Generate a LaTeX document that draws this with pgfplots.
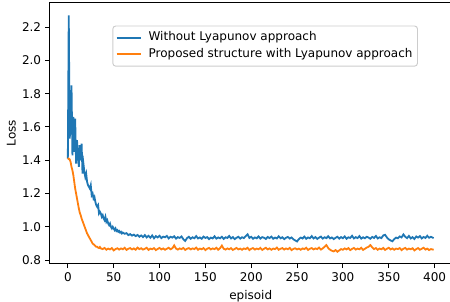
\documentclass[border=0pt]{standalone}
\usepackage{pgfplots}
\pgfplotsset{compat=1.18}
\usepackage{fontspec}
\setmainfont{DejaVu Sans}
\definecolor{mplblue}{HTML}{1F77B4}
\definecolor{mplorange}{HTML}{FF7F0E}
\begin{document}
\fontsize{12}{14.4}\selectfont
\begin{tikzpicture}
\path[use as bounding box] (-49.5pt,-38pt) rectangle (400.5pt,263.9pt);
\begin{axis}[
  scale only axis,
  width=402.5pt, height=261.4pt,
  xmin=-20, xmax=419, ymin=0.777, ymax=2.348,
  xtick={0,50,...,400},
  ytick={0.8,1.0,1.2,1.4,1.6,1.8,2.0,2.2},
  yticklabel style={/pgf/number format/.cd,fixed,fixed zerofill,precision=1},
  /pgf/number format/assume math mode=true,
  tick align=outside,
  major tick length=4.2pt,
  tick style={black, line width=0.95pt},
  xtick pos=bottom, ytick pos=left,
  axis line style={line width=0.95pt},
  every tick label/.append style={font=\fontsize{12}{14.4}\selectfont},
  xlabel={episoid}, ylabel={Loss},
  label style={font=\fontsize{12}{14.4}\selectfont},
  xlabel style={at={(rel axis cs:0.5,0)}, anchor=north, yshift=-22pt},
  ylabel style={at={(rel axis cs:0,0.5)}, anchor=south, yshift=33.5pt, inner sep=0pt},
  legend style={at={(rel axis cs:0.9155,0.912)}, anchor=north east,
    draw=black!20, line width=0.95pt, rounded corners=3pt, fill=white, font=\fontsize{12}{14.4}\selectfont,
    inner xsep=3pt, inner ysep=3.5pt, row sep=0pt,
    nodes={text height=9pt, text depth=3pt, inner ysep=2.3pt},
    /tikz/every odd column/.append style={column sep=5pt}},
  legend cell align=left,
  legend image code/.code={\draw[#1, line width=1.8pt] (0pt,0pt) -- (24pt,0pt);},
]
\addplot[mplblue, line width=1.8pt] coordinates {
(0,1.41)(1,2.27)(2,1.53)(3,1.60)(4,1.85)(5,1.43)(6,1.66)(7,1.45)(8,1.65)(9,1.38)
(10,1.52)(11,1.44)(12,1.36)(13,1.49)(14,1.40)(15,1.50)(16,1.32)(17,1.38)(18,1.33)(19,1.30)
(20,1.32)(21,1.27)(22,1.25)(23,1.24)(24,1.23)(25,1.25)(26,1.19)(27,1.20)(28,1.17)(29,1.18)
(30,1.15)(31,1.13)(32,1.12)(33,1.13)(34,1.08)(35,1.09)(36,1.08)(37,1.06)(38,1.07)(39,1.05)
(40,1.04)(41,1.06)(42,1.03)(43,1.04)(44,1.02)(45,1.01)(46,1.02)(47,1.00)(48,0.99)(49,1.00)
(50,0.99)(51,0.98)(52,0.99)(53,0.975)(54,0.98)(55,0.97)(56,0.975)(57,0.965)(58,0.97)(59,0.96)
(60,0.965)(62,0.958)(64,0.962)(66,0.950)(68,0.956)(70,0.947)(72,0.953)(74,0.944)(76,0.951)(78,0.940)
(80,0.948)(82,0.938)(84,0.950)(86,0.936)(88,0.946)(90,0.934)(92,0.948)(94,0.931)(96,0.944)(98,0.936)
(100,0.946)(102,0.932)(104,0.941)(106,0.937)(108,0.945)(110,0.930)(112,0.940)(114,0.935)(116,0.943)(118,0.929)
(120,0.938)(122,0.933)(124,0.942)(126,0.925)(128,0.915)(130,0.932)(132,0.940)(134,0.928)(136,0.937)(138,0.931)
(140,0.944)(142,0.930)(144,0.936)(146,0.928)(148,0.941)(150,0.933)(152,0.938)(154,0.926)(156,0.935)(158,0.930)
(160,0.943)(162,0.929)(164,0.936)(166,0.931)(168,0.940)(170,0.927)(172,0.937)(174,0.933)(176,0.945)(178,0.930)
(180,0.938)(182,0.926)(184,0.934)(186,0.940)(188,0.929)(190,0.937)(192,0.932)(194,0.944)(196,0.955)(198,0.933)
(200,0.940)(202,0.928)(204,0.936)(206,0.931)(208,0.942)(210,0.929)(212,0.938)(214,0.934)(216,0.927)(218,0.939)
(220,0.932)(222,0.941)(224,0.928)(226,0.935)(228,0.930)(230,0.943)(232,0.931)(234,0.937)(236,0.926)(238,0.934)
(240,0.939)(242,0.929)(244,0.936)(246,0.925)(248,0.918)(250,0.912)(252,0.926)(254,0.935)(256,0.930)(258,0.941)
(260,0.928)(262,0.936)(264,0.931)(266,0.944)(268,0.930)(270,0.938)(272,0.927)(274,0.935)(276,0.941)(278,0.929)
(280,0.937)(282,0.932)(284,0.943)(286,0.930)(288,0.936)(290,0.926)(292,0.934)(294,0.940)(296,0.929)(298,0.938)
(300,0.931)(302,0.942)(304,0.928)(306,0.937)(308,0.933)(310,0.946)(312,0.930)(314,0.938)(316,0.932)(318,0.944)
(320,0.929)(322,0.937)(324,0.931)(326,0.940)(328,0.935)(330,0.928)(332,0.939)(334,0.933)(336,0.945)(338,0.930)
(340,0.937)(342,0.932)(344,0.948)(346,0.952)(348,0.936)(350,0.925)(352,0.918)(354,0.913)(356,0.926)(358,0.935)
(360,0.931)(362,0.942)(364,0.936)(366,0.954)(368,0.940)(370,0.932)(372,0.945)(374,0.930)(376,0.938)(378,0.927)
(380,0.942)(382,0.935)(384,0.944)(386,0.930)(388,0.939)(390,0.933)(392,0.946)(394,0.934)(396,0.940)(399,0.932)
};
\addlegendentry{Without Lyapunov approach}
\addplot[mplorange, line width=1.8pt] coordinates {
(0,1.405)(1,1.41)(2,1.405)(3,1.39)(4,1.36)(5,1.34)(6,1.31)(7,1.27)(8,1.23)(9,1.20)
(10,1.17)(11,1.14)(12,1.11)(13,1.085)(14,1.07)(15,1.05)(16,1.035)(17,1.02)(18,1.005)(19,0.99)
(20,0.975)(21,0.96)(22,0.95)(23,0.94)(24,0.93)(25,0.92)(26,0.91)(27,0.90)(28,0.895)(29,0.89)
(30,0.885)(31,0.88)(32,0.88)(33,0.875)(34,0.872)(35,0.878)(36,0.870)(38,0.866)(40,0.873)(42,0.862)
(44,0.869)(46,0.864)(48,0.872)(50,0.858)(52,0.866)(54,0.871)(56,0.863)(58,0.870)(60,0.865)(62,0.874)
(64,0.861)(66,0.868)(68,0.872)(70,0.864)(72,0.870)(74,0.862)(76,0.875)(78,0.866)(80,0.871)(82,0.863)
(84,0.868)(86,0.874)(88,0.861)(90,0.869)(92,0.865)(94,0.872)(96,0.860)(98,0.867)(100,0.873)(102,0.864)
(104,0.870)(106,0.862)(108,0.868)(110,0.874)(112,0.865)(114,0.871)(116,0.888)(118,0.869)(120,0.863)(122,0.870)
(124,0.866)(126,0.873)(128,0.861)(130,0.868)(132,0.872)(134,0.864)(136,0.870)(138,0.866)(140,0.875)(142,0.862)
(144,0.869)(146,0.865)(148,0.872)(150,0.860)(152,0.868)(154,0.873)(156,0.864)(158,0.870)(160,0.866)(162,0.874)
(164,0.862)(166,0.871)(168,0.887)(170,0.868)(172,0.863)(174,0.870)(176,0.865)(178,0.872)(180,0.861)(182,0.867)
(184,0.873)(186,0.864)(188,0.869)(190,0.862)(192,0.870)(194,0.866)(196,0.874)(198,0.860)(200,0.868)(202,0.872)
(204,0.863)(206,0.869)(208,0.865)(210,0.873)(212,0.861)(214,0.868)(216,0.874)(218,0.864)(220,0.870)(222,0.862)
(224,0.869)(226,0.866)(228,0.875)(230,0.862)(232,0.868)(234,0.872)(236,0.863)(238,0.870)(240,0.865)(242,0.873)
(244,0.860)(246,0.867)(248,0.871)(250,0.864)(252,0.869)(254,0.862)(256,0.870)(258,0.866)(260,0.874)(262,0.861)
(264,0.868)(266,0.872)(268,0.864)(270,0.870)(272,0.866)(274,0.875)(276,0.863)(278,0.870)(280,0.880)(282,0.890)
(284,0.872)(286,0.862)(288,0.856)(290,0.852)(292,0.860)(294,0.850)(296,0.858)(298,0.866)(300,0.862)(302,0.870)
(304,0.864)(306,0.872)(308,0.860)(310,0.867)(312,0.873)(314,0.863)(316,0.869)(318,0.865)(320,0.874)(322,0.861)
(324,0.868)(326,0.875)(328,0.880)(330,0.890)(332,0.876)(334,0.866)(336,0.872)(338,0.862)(340,0.869)(342,0.865)
(344,0.873)(346,0.861)(348,0.868)(350,0.874)(352,0.864)(354,0.870)(356,0.862)(358,0.869)(360,0.866)(362,0.872)
(364,0.860)(366,0.868)(368,0.873)(370,0.863)(372,0.869)(374,0.865)(376,0.871)(378,0.858)(380,0.866)(382,0.872)
(384,0.862)(386,0.868)(388,0.874)(390,0.863)(392,0.869)(394,0.860)(396,0.866)(399,0.862)
};
\addlegendentry{Proposed structure with Lyapunov approach}
\end{axis}
\end{tikzpicture}
\end{document}
